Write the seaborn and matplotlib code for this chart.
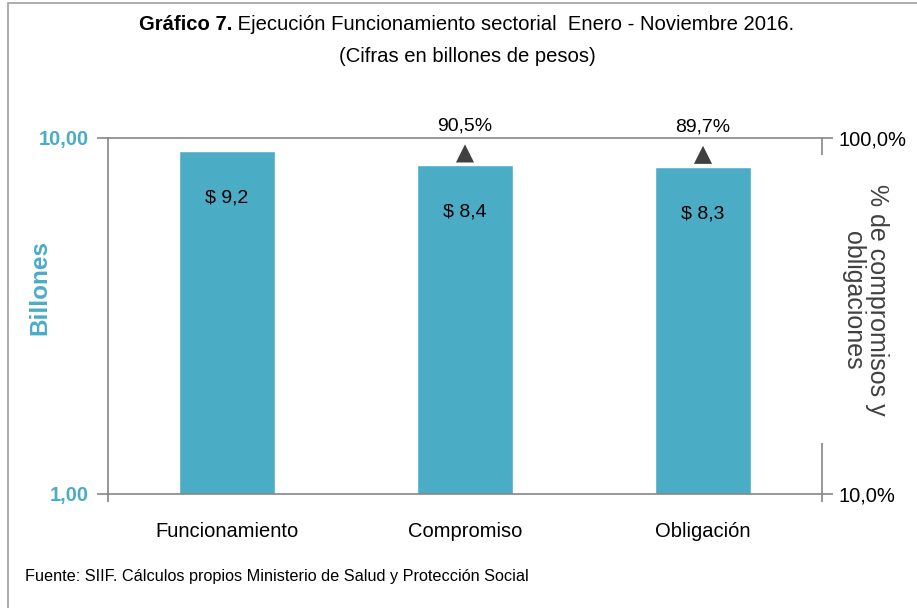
import matplotlib
matplotlib.use("Agg")
import matplotlib.pyplot as plt
import seaborn as sns
import pandas as pd
from matplotlib.patches import Rectangle
from matplotlib.ticker import FixedLocator, NullLocator

categories = ["Funcionamiento", "Compromiso", "Obligación"]
values = [9.2, 8.4, 8.3]
value_labels = ["$ 9,2", "$ 8,4", "$ 8,3"]
pct_categories = ["Compromiso", "Obligación"]
pct_values = [90.5, 89.7]
pct_labels = ["90,5%", "89,7%"]
left_ticks = [1, 10]
left_ticklabels = ["1,00", "10,00"]
right_ticks = [10, 100]
right_ticklabels = ["10,0%", "100,0%"]

sns.set_theme(style="white")
plt.rcParams['font.family'] = ['Liberation Sans', 'DejaVu Sans']
plt.rcParams['text.color'] = 'black'

BAR = "#4BACC6"
GRAY = "#868686"
W, H = 917, 608

fig = plt.figure(figsize=(9.17, 6.08), dpi=100)
fig.patches.append(Rectangle((8/W, -0.1), 1.2, 1 - 3/H + 0.1, transform=fig.transFigure,
                             fill=False, edgecolor="#A0A0A0", linewidth=1.2))
ax = fig.add_axes([108/W, 1-494/H, (822-108)/W, (494-138)/H])

df = pd.DataFrame({"cat": categories, "val": values})
sns.barplot(data=df, x="cat", y="val", color=BAR, width=0.4, saturation=1, ax=ax, zorder=2)
ax.set_yscale("log")
ax.set_ylim(1, 10)
ax.set_xlim(-0.5, 2.5)
ax.yaxis.set_major_locator(FixedLocator(left_ticks))
ax.yaxis.set_minor_locator(NullLocator())
ax.set_yticklabels(left_ticklabels, fontsize=14.5, fontweight="bold", color=BAR)
ax.tick_params(axis="y", which="major", length=8, width=1.2, color=GRAY, direction="out", pad=6, left=True)
ax.tick_params(axis="x", which="major", length=0, pad=20, labelsize=14.5, labelcolor="black")
ax.xaxis.set_minor_locator(FixedLocator([-0.5, 2.5]))
ax.tick_params(axis="x", which="minor", bottom=True, length=6, width=1.2, color=GRAY, direction="out")
ax.set_xlabel("")
ax.set_ylabel("")
for side in ["left", "bottom", "top"]:
    ax.spines[side].set_color(GRAY)
    ax.spines[side].set_linewidth(1.2)
ax.spines["right"].set_visible(False)

for p, lab in zip(ax.patches, value_labels):
    x = p.get_x() + p.get_width() / 2
    ax.annotate(lab, (x, p.get_height()), xytext=(0, -34), textcoords="offset points",
                ha="center", va="center", fontsize=14, color="black")

ax2 = ax.twinx()
ax2.set_yscale("log")
ax2.set_ylim(10, 100)
ax2.set_xlim(-0.5, 2.5)
pdf = pd.DataFrame({"cat": [categories.index(c) for c in pct_categories], "pct": pct_values})
sns.scatterplot(data=pdf, x="cat", y="pct", marker="^", s=170, color="#404040", edgecolor="none", ax=ax2, zorder=5)
for c, v, lab in zip(pdf["cat"], pct_values, pct_labels):
    ax2.annotate(lab, (c, v), xytext=(0, 20), textcoords="offset points", ha="center", va="center",
                 fontsize=14, color="black", annotation_clip=False)
ax2.yaxis.set_major_locator(FixedLocator(right_ticks))
ax2.yaxis.set_minor_locator(NullLocator())
ax2.set_yticklabels(right_ticklabels, fontsize=14.5, color="black")
ax2.tick_params(axis="y", length=8, width=1.2, color=GRAY, direction="out", pad=4)
ax2.set_xlabel("")
ax2.set_ylabel("")
for side in ["left", "bottom", "top", "right"]:
    ax2.spines[side].set_visible(False)
# right axis line, interrupted by the axis title box as in the reference
for y0, y1 in [(0, (494-443)/356), ((494-155)/356, 1)]:
    ax2.plot([1, 1], [y0, y1], transform=ax2.transAxes, color=GRAY, lw=1.2, clip_on=False, solid_capstyle="butt")

fig.text(40/W, 1-288/H, "Billones", rotation=90, ha="center", va="center",
         fontsize=17.5, fontweight="bold", color=BAR)
fig.text(865/W, 1-300/H, "% de compromisos y\nobligaciones", rotation=-90, ha="center", va="center",
         fontsize=18, color="#404040", linespacing=1.05)

# Title: bold lead + normal text, centred as one line
t_bold = fig.text(0, 1-24/H, "Gráfico 7.", ha="left", va="center", fontsize=14.6, fontweight="bold", color="black")
t_rest = fig.text(0, 1-24/H, " Ejecución Funcionamiento sectorial  Enero - Noviembre 2016.",
                  ha="left", va="center", fontsize=14.6, color="black")
r = fig.canvas.get_renderer()
wb = t_bold.get_window_extent(r).width
wr = t_rest.get_window_extent(r).width
x0 = 466.5 - (wb + wr) / 2
t_bold.set_x(x0 / W)
t_rest.set_x((x0 + wb) / W)
fig.text(467/W, 1-57/H, "(Cifras en billones de pesos)", ha="center", va="center", fontsize=14.6, color="black")
fig.text(25/W, 1-577/H, "Fuente: SIIF. Cálculos propios Ministerio de Salud y Protección Social",
         ha="left", va="center", fontsize=11.7, color="black")

fig.savefig("out.png", dpi=100)
